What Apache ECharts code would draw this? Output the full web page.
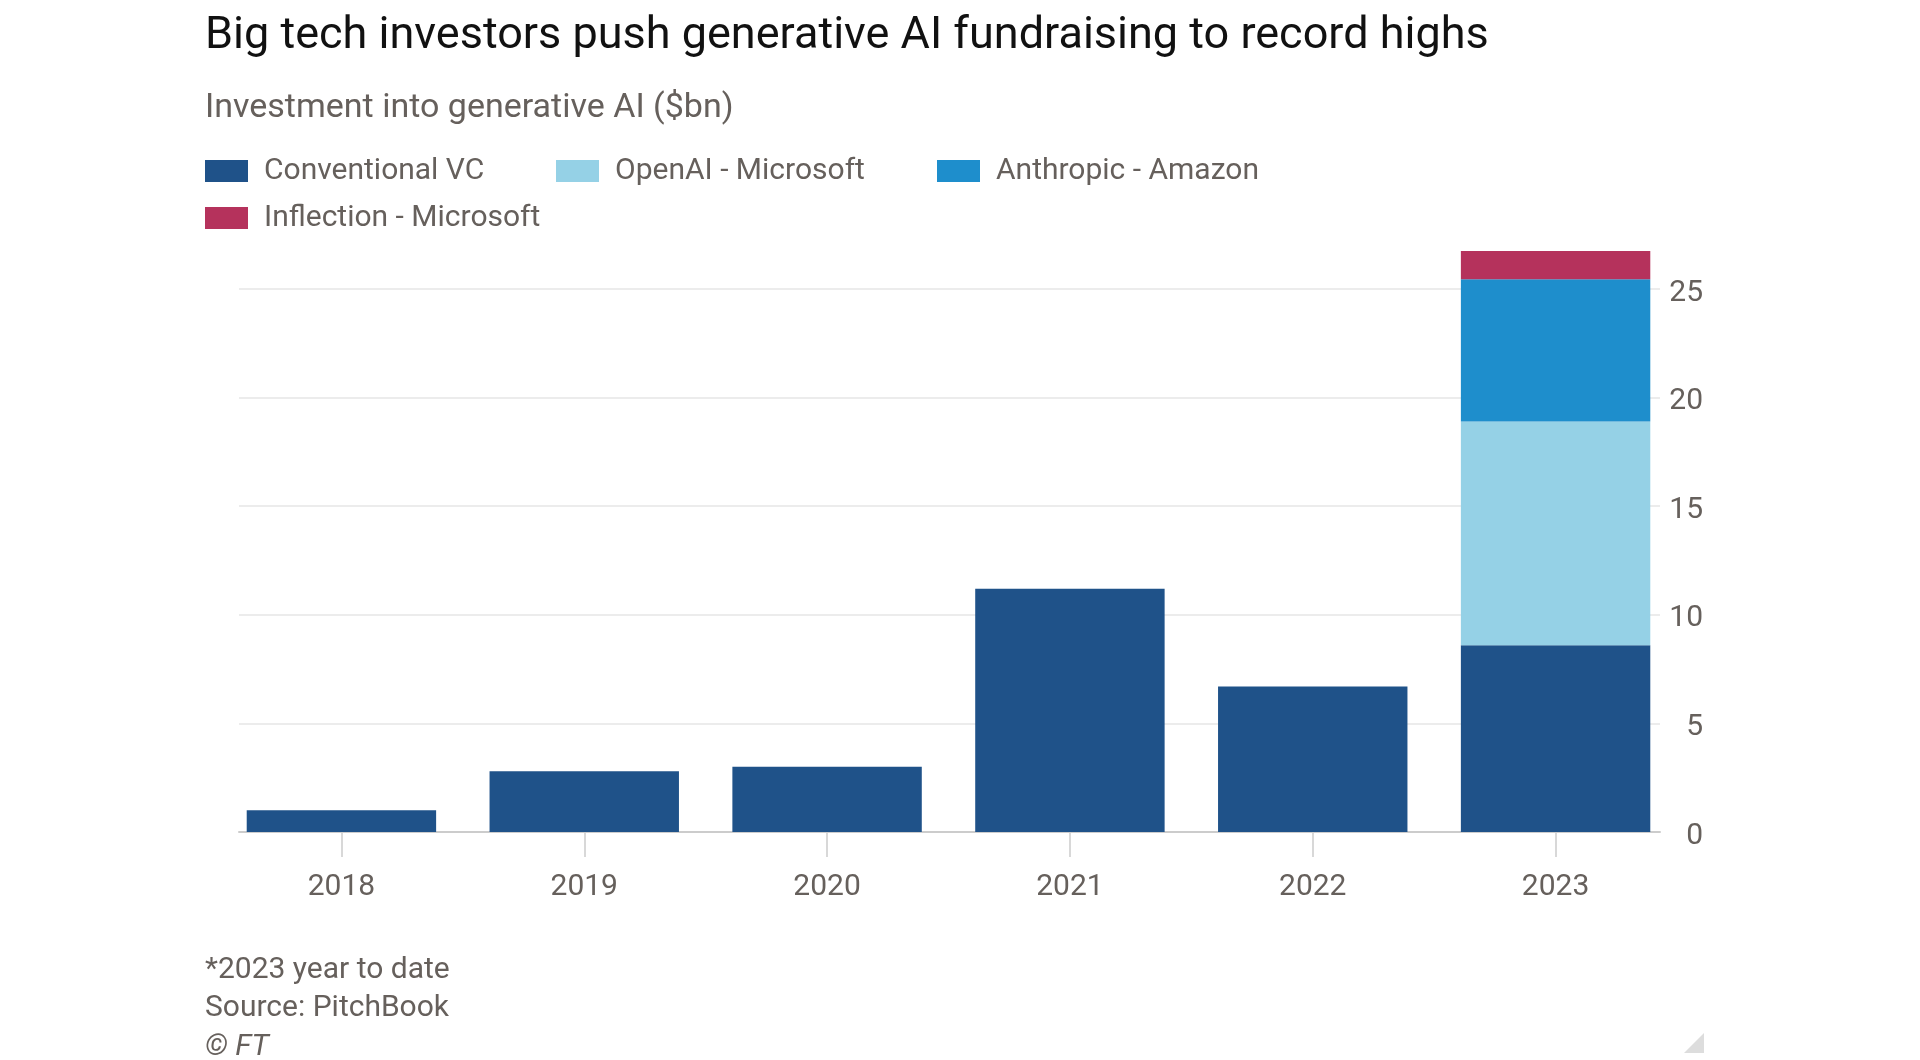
<!DOCTYPE html>
<html>
<head>
<meta charset="utf-8">
<script src="https://cdn.jsdelivr.net/npm/echarts@6/dist/echarts.min.js"></script>
<style>html,body{margin:0;padding:0;background:#fff}#chart{width:1920px;height:1060px}</style>
</head>
<body>
<div id="chart"></div>
<script>
const years = ['2018', '2019', '2020', '2021', '2022', '2023'];
const conventionalVC = [1.0, 2.8, 3.0, 11.2, 6.7, 8.6];
const openAIMicrosoft = [null, null, null, null, null, 10.3];
const anthropicAmazon = [null, null, null, null, null, 6.55];
const inflectionMicrosoft = [null, null, null, null, null, 1.3];
const yTicks = [0, 5, 10, 15, 20, 25];

const seriesNames = ['Conventional VC', 'OpenAI - Microsoft', 'Anthropic - Amazon', 'Inflection - Microsoft'];
const colors = ['#1f5289', '#95d1e6', '#1e8ecc', '#b5325c'];
const FONT = 'Roboto';
const grey = '#66605c';

const chart = echarts.init(document.getElementById('chart'));

function legendItem(i, left, top) {
  return {
    data: [seriesNames[i]], left: left, top: top, padding: 0,
    itemWidth: 43, itemHeight: 22, icon: 'rect', selectedMode: false,
    textStyle: { fontFamily: FONT, fontSize: 30, color: grey, padding: [0, 0, 0, 11], lineHeight: 30 }
  };
}

const yMax = yTicks[yTicks.length - 1];

chart.setOption({
  animation: false,
  color: colors,
  legend: [
    legendItem(0, 205, 156),
    legendItem(1, 556, 156),
    legendItem(2, 937, 156),
    legendItem(3, 205, 203)
  ],
  grid: [
    { left: 220, right: 243, top: 289, bottom: 228 },
    { left: 239, right: 260, top: 289, bottom: 228 }
  ],
  xAxis: [
    {
      type: 'category', data: years, gridIndex: 0,
      axisLine: { show: false },
      axisTick: { show: true, alignWithLabel: true, length: 25, lineStyle: { color: '#cccccc', width: 1.5 } },
      axisLabel: { fontFamily: FONT, fontSize: 30, color: grey, margin: 40 }
    },
    {
      type: 'value', gridIndex: 1, min: 0, max: 1,
      axisLine: { show: true, onZero: false, lineStyle: { color: '#cccccc', width: 2 } },
      axisTick: { show: false }, axisLabel: { show: false }, splitLine: { show: false }
    }
  ],
  yAxis: [
    { type: 'value', gridIndex: 0, min: 0, max: yMax, interval: 5, show: false },
    {
      type: 'value', gridIndex: 1, position: 'right', min: 0, max: yMax, interval: 5,
      axisLine: { show: false }, axisTick: { show: false },
      splitLine: { show: true, lineStyle: { color: '#e6e6e6', width: 1.5 } },
      axisLabel: { fontFamily: FONT, fontSize: 30, color: grey, align: 'right', margin: 43, verticalAlign: 'top', lineHeight: 8 }
    }
  ],
  series: [conventionalVC, openAIMicrosoft, anthropicAmazon, inflectionMicrosoft].map((d, i) => ({
    name: seriesNames[i], type: 'bar', stack: 'total', data: d,
    xAxisIndex: 0, yAxisIndex: 0, barWidth: '78%', clip: false,
    itemStyle: { color: colors[i] }, emphasis: { disabled: true }
  })),
  graphic: [
    { type: 'text', style: { x: 205, y: 37, text: 'Big tech investors push generative AI fundraising to record highs', font: '45px ' + FONT, fill: '#111111', verticalAlign: 'middle' } },
    { type: 'text', style: { x: 205, y: 108, text: 'Investment into generative AI ($bn)', font: '34px ' + FONT, fill: grey, verticalAlign: 'middle' } },
    { type: 'text', style: { x: 205, y: 970, text: '*2023 year to date', font: '30px ' + FONT, fill: grey, verticalAlign: 'middle' } },
    { type: 'text', style: { x: 205, y: 1008, text: 'Source: PitchBook', font: '30px ' + FONT, fill: grey, verticalAlign: 'middle' } },
    { type: 'text', style: { x: 205, y: 1047, text: '© FT', font: 'italic 30px ' + FONT, fill: grey, verticalAlign: 'middle' } },
    { type: 'polygon', shape: { points: [[1704, 1033], [1704, 1053], [1684, 1053]] }, style: { fill: '#dddddd' } }
  ]
});
</script>
</body>
</html>
